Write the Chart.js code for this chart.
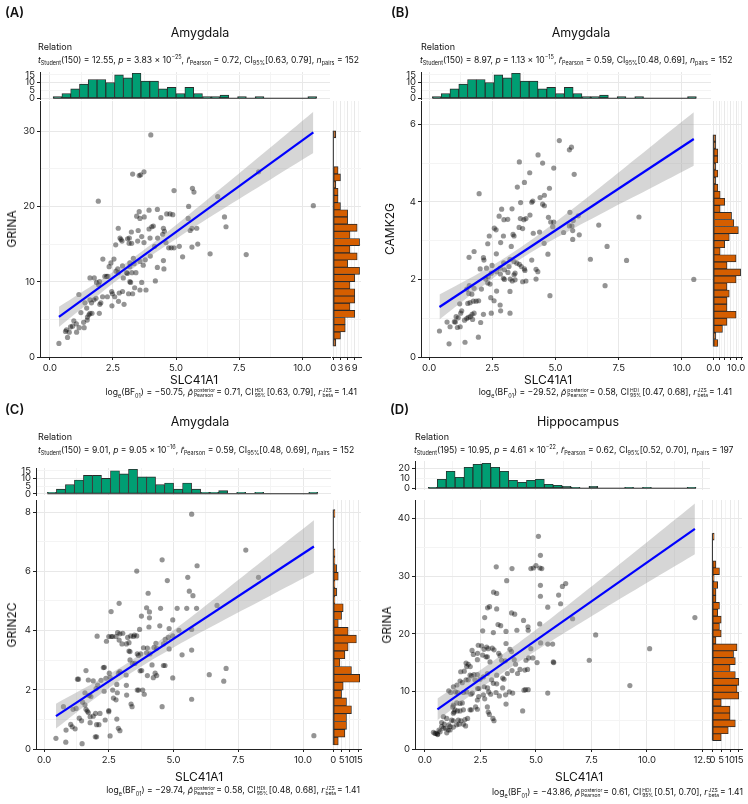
<!DOCTYPE html>
<html lang="en">
<head>
<meta charset="UTF-8" />
<title>SLC41A1 correlations</title>
<script src="https://cdn.jsdelivr.net/npm/chart.js"></script>
<style>
  body { margin: 0; background: #fff; font-family: Inter, 'Open Sans', sans-serif; color: #111; }
  #wrap { position: relative; width: 748px; height: 804px; overflow: hidden; }
  .panel { position: absolute; width: 374px; height: 402px; }
  .panel canvas { position: absolute; left: 0; top: 0; }
  .txt { position: absolute; white-space: nowrap; line-height: 1; }
  .l { transform: translate(0, -50%); }
  .c { transform: translate(-50%, -50%); }
  .r { transform: translate(-100%, -50%); }
  .v { transform: translate(-50%, -50%) rotate(-90deg); }
  .tag { font-size: 13px; font-weight: 600; }
  .ttl { font-size: 12.5px; }
  .rel { font-size: 9px; }
  .stats, .cap { font-size: 8.6px; }
  .stats sub, .stats sup, .cap sub { font-size: 5.5px; line-height: 0; }
  .ss { display: inline-flex; flex-direction: column; vertical-align: middle; font-size: 5px; line-height: 1.05; margin: 0 1px; }
  .axt { font-size: 12px; }
</style>
</head>
<body>
<div id="wrap"></div>
<script>
// ---------- data ----------
// scatter points [x, y]
const ptsA = [[4.0,29.5],[3.28,24.3],[3.54,24.1],[3.6,24.2],[3.73,24.6],[1.92,20.7],[4.92,22.1],[5.65,22.4],[5.71,21.9],[6.65,21.3],[8.27,24.6],[10.44,20.1],[5.5,20.0],
  [3.54,19.3],[3.93,19.5],[4.26,19.6],[3.74,18.6],[3.44,18.7],[3.57,18.4],[4.63,19.0],[4.76,19.0],[4.87,18.9],[4.4,18.5],[4.04,17.3],[4.1,17.4],
  [5.48,18.4],[5.63,17.1],[5.82,17.1],[5.56,16.8],[6.92,18.6],[6.98,17.3],[2.71,17.1],[3.93,17.0],[3.5,16.8],[3.23,16.6],[3.15,15.8],
  [2.78,15.8],[2.82,15.6],[2.86,15.4],[3.08,15.7],[3.14,15.1],[3.24,15.1],[2.61,14.9],[3.64,16.0],[3.97,15.8],[4.27,15.8],[4.47,16.3],[4.54,16.7],[4.5,17.1],
  [3.48,15.4],[3.73,15.2],[4.15,14.7],[4.6,15.2],[4.71,14.5],[4.81,14.5],[4.92,14.5],[5.13,14.7],[5.63,14.6],[5.86,15.0],[6.35,13.7],[7.78,13.6],[5.26,13.3],
  [3.98,13.4],[3.78,12.9],[3.57,12.7],[3.31,13.1],[3.34,12.4],[3.17,12.0],[2.88,12.1],[2.69,11.7],[2.62,11.4],[2.71,11.2],[2.54,13.0],[2.42,12.5],[2.35,12.0],
  [2.10,13.0],[2.18,10.7],[2.25,10.7],[2.30,10.7],[1.97,10.0],[1.93,9.6],[1.85,9.9],[1.59,10.5],[1.76,10.5],[1.15,8.3],[2.09,8.0],[2.28,8.0],[2.57,8.0],
  [2.45,8.7],[2.48,8.4],[2.75,8.5],[2.88,8.7],[3.07,11.1],[3.17,10.0],[3.2,9.9],[2.91,10.5],[3.04,11.2],[3.25,11.2],[3.41,11.2],[3.64,9.9],[3.81,8.9],[3.57,8.9],[3.36,9.2],
  [3.12,8.4],[3.28,8.4],[2.72,7.4],[2.94,7.0],[2.46,6.8],[4.18,10.1],[4.5,12.8],[4.52,11.7],[4.26,11.9],[3.70,12.2],[3.17,12.5],
  [1.59,7.6],[1.65,7.2],[1.75,7.6],[1.83,7.8],[1.98,7.0],[2.02,7.2],[1.67,5.8],[1.59,5.8],[1.55,5.6],[1.49,5.3],[1.48,4.9],
  [1.23,5.9],[1.34,4.6],[1.16,3.9],[1.05,4.4],[0.95,4.8],[0.82,4.0],[0.66,3.6],[0.62,3.4],[0.77,3.3],[0.36,1.8],[0.70,2.6],[1.06,3.3],[1.36,3.9],[1.39,7.2],[1.46,6.5],[1.96,5.8],[0.90,4.1]];

const ptsB = [[5.15,5.58],[5.55,5.34],[5.63,5.41],[4.31,5.21],[3.57,5.03],[4.49,5.0],[4.93,4.87],[5.74,4.71],[3.98,4.75],[1.98,4.21],[3.77,4.5],[3.49,4.38],[4.76,4.35],
  [4.39,4.11],[4.56,4.17],[4.06,3.99],[4.1,4.02],[4.49,3.94],[4.56,3.9],[3.62,3.98],[2.87,3.81],[3.28,3.82],[2.77,3.63],[2.96,3.54],[3.11,3.55],[3.61,3.57],[3.75,3.54],
  [3.83,3.57],[3.99,3.66],[2.58,3.32],[2.65,3.28],[3.56,3.34],[3.70,3.31],[2.38,3.12],[2.94,3.12],[3.32,3.16],[3.36,3.12],[4.12,3.19],[4.37,3.22],[4.72,3.6],[4.81,3.48],
  [4.93,3.48],[5.57,3.73],[5.70,3.52],[5.94,3.15],[5.65,3.38],[5.55,3.38],[5.32,3.21],[6.71,3.4],[5.9,3.64],[8.30,3.61],[4.89,3.36],[5.68,3.26],[5.68,3.03],[4.55,2.93],
  [2.32,2.92],[2.83,2.95],[1.58,2.57],[2.15,2.56],[2.66,2.66],[1.78,2.72],[3.25,2.85],[7.04,2.85],[4.70,2.65],[4.06,2.5],[6.38,2.52],[7.81,2.49],[2.95,2.43],[3.2,2.52],
  [3.36,2.46],[3.47,2.42],[3.57,2.39],[3.65,2.33],[2.98,2.25],[3.16,2.33],[2.81,2.29],[2.49,2.36],[2.67,2.2],[2.34,2.07],[2.46,2.16],[2.02,2.27],[2.27,2.29],[2.17,2.5],
  [3.77,2.27],[3.79,2.23],[3.4,2.16],[3.12,2.18],[3.36,2.12],[3.21,2.01],[2.82,2.14],[2.94,2.03],[3.29,1.96],[3.4,1.99],[2.98,2.0],[4.23,2.26],[4.30,2.2],[4.23,2.01],
  [3.70,1.94],[3.83,1.96],[4.78,1.58],[6.96,1.84],[10.47,2.0],[2.67,1.70],[2.32,1.91],[2.41,1.88],[2.24,2.01],[2.07,1.75],[1.78,1.77],[1.59,1.84],[1.49,1.75],[1.57,1.64],
  [1.69,1.62],[2.44,1.53],[2.57,1.45],[3.2,1.69],[1.96,1.45],[1.75,1.44],[1.86,1.44],[1.53,1.38],[1.62,1.40],[1.21,1.37],[2.81,1.34],[2.83,1.19],[2.46,1.13],[3.20,1.13],
  [2.15,1.10],[1.70,1.10],[1.78,1.13],[1.29,1.19],[1.25,1.13],[1.07,1.04],[1.15,1.01],[1.55,1.02],[1.63,1.04],[1.72,0.97],[1.40,0.95],[1.49,0.99],[2.04,0.89],[1.0,0.91],
  [0.71,0.90],[1.12,0.76],[1.23,0.78],[0.83,0.78],[0.41,0.67],[1.95,0.51],[1.42,0.38],[0.79,0.34],[1.04,0.90]];

const ptsC = [[5.70,7.93],[7.79,6.72],[4.56,6.39],[5.91,6.19],[3.58,6.01],[4.76,5.69],[5.55,5.8],[8.28,5.8],[5.61,5.33],[5.75,5.18],[4.02,5.26],[2.90,4.92],[6.68,4.85],
  [2.59,4.64],[3.96,4.77],[4.07,4.63],[4.50,4.75],[5.14,4.75],[5.51,4.75],[5.89,4.75],[3.76,4.49],[4.07,4.43],[4.97,4.36],[4.47,4.16],[4.83,4.07],[4.05,4.12],[3.69,4.04],
  [5.21,4.01],[5.70,4.04],[2.05,3.81],[2.50,3.8],[2.65,3.8],[2.78,3.8],[2.6,3.8],[2.84,3.93],[2.93,3.89],[3.04,3.91],[3.23,3.77],[3.35,3.82],[3.45,3.8],[2.41,3.64],
  [3.01,3.55],[3.18,3.55],[3.28,3.59],[3.49,3.85],[3.58,3.82],[2.90,3.68],[4.68,3.70],[4.80,3.77],[4.97,3.82],[4.32,3.57],[4.61,3.55],[3.84,3.42],[3.99,3.41],[4.25,3.43],
  [4.35,3.40],[4.83,3.38],[3.28,3.31],[3.32,3.29],[3.60,3.21],[3.73,3.21],[3.65,3.16],[3.96,3.25],[4.09,3.21],[5.33,3.18],[5.70,3.34],[3.32,3.01],[3.41,2.89],[3.51,2.89],
  [2.29,2.75],[2.33,2.76],[4.17,2.84],[4.61,2.82],[4.67,2.82],[2.93,2.61],[2.87,2.56],[3.17,2.50],[3.71,2.64],[3.77,2.65],[4.29,2.56],[4.22,2.41],[4.35,2.48],[3.99,2.48],
  [4.97,2.40],[6.38,2.51],[7.03,2.72],[6.94,2.29],[2.52,2.56],[1.62,2.65],[1.33,2.36],[1.29,2.36],[1.71,2.33],[1.90,2.30],[2.20,2.32],[2.39,2.39],[2.55,2.42],[2.07,2.16],
  [2.81,2.18],[3.18,2.15],[3.81,1.99],[3.60,1.99],[3.65,1.99],[3.87,1.85],[3.19,1.82],[2.65,1.99],[2.83,1.90],[2.32,1.95],[2.01,2.04],[1.81,1.77],[1.74,1.81],[1.58,1.90],
  [2.68,1.72],[2.78,1.66],[3.36,1.52],[3.40,1.43],[5.70,1.68],[4.56,1.43],[0.75,1.43],[1.12,1.34],[1.24,1.37],[1.62,1.34],[1.67,1.28],[1.71,1.23],[2.16,1.20],[1.99,1.20],
  [2.50,1.30],[2.50,1.26],[1.58,1.49],[1.49,1.58],[1.36,1.04],[1.45,0.95],[1.78,1.09],[1.90,1.11],[2.36,0.98],[2.81,1.01],[1.03,0.83],[1.09,0.75],[0.85,0.64],[1.20,0.68],
  [1.78,0.89],[2.03,0.82],[2.12,0.82],[2.87,0.70],[2.93,0.62],[1.98,0.41],[2.03,0.41],[2.55,0.44],[0.46,0.36],[0.84,0.23],[1.47,0.18],[10.42,0.45]];

const ptsD = [[5.11,36.9],[5.20,33.6],[5.26,31.3],[3.21,31.6],[3.92,31.3],[4.88,31.4],[4.77,31.3],[5.0,31.8],[5.18,31.4],[3.68,29.2],[6.34,28.7],[6.19,28.2],[5.20,28.4],
  [5.20,26.5],[6.02,26.7],[3.09,27.2],[3.23,27.0],[2.91,24.7],[2.82,24.5],[3.23,24.3],[5.53,24.6],[6.11,25.2],[3.90,23.6],[4.04,23.4],[2.69,22.8],[4.44,22.3],[6.65,22.6],
  [12.16,22.8],[3.29,21.6],[3.41,21.4],[5.17,21.7],[4.64,21.2],[4.65,20.6],[4.14,20.6],[2.60,20.5],[3.65,20.4],[3.08,20.2],[7.69,19.8],[3.65,18.3],[2.40,18.0],[2.55,17.9],
  [2.78,17.7],[2.66,17.3],[2.85,17.4],[3.03,17.5],[3.11,17.2],[2.37,16.6],[2.60,16.3],[2.12,17.1],[2.18,16.4],[2.75,16.0],[2.81,16.0],[3.32,16.6],[3.38,16.2],[3.83,17.3],
  [3.90,16.9],[4.77,17.4],[5.53,18.2],[5.75,18.2],[5.21,18.4],[10.12,17.4],[4.67,15.8],[4.55,15.4],[4.02,15.5],[3.45,15.4],[3.62,15.3],[2.93,15.1],[2.36,15.5],[1.85,14.9],
  [1.95,14.7],[1.61,13.4],[1.77,13.5],[1.88,14.3],[2.04,14.3],[2.03,12.8],[2.10,12.7],[2.21,12.9],[2.36,12.9],[2.25,12.0],[2.48,12.1],[2.63,12.5],[2.81,13.1],[3.00,12.0],
  [3.23,12.8],[3.50,12.3],[3.56,12.1],[3.71,13.1],[3.92,13.6],[4.17,13.1],[4.28,13.8],[4.50,13.7],[4.62,13.8],[4.08,14.7],[5.05,15.0],[5.78,15.1],[4.86,15.8],[7.40,15.4],
  [5.80,15.0],[1.85,12.0],[1.95,12.0],[1.58,11.8],[1.68,11.5],[1.44,11.1],[1.28,10.8],[2.37,10.5],[2.43,10.5],[2.67,10.8],[2.82,10.6],[3.08,11.4],[3.23,11.3],[3.50,10.6],
  [3.80,9.9],[3.95,9.7],[4.46,10.2],[4.53,10.3],[4.65,10.3],[5.53,9.7],[9.23,11.0],[1.07,10.1],[1.16,9.8],[1.37,9.9],[1.47,9.8],[1.73,9.8],[1.88,9.9],[2.07,9.5],[2.13,9.7],
  [2.42,9.1],[2.36,8.5],[2.63,9.4],[2.69,8.7],[2.87,9.9],[2.96,9.5],[3.20,9.8],[3.35,9.2],[3.63,9.4],[2.28,7.3],[2.36,6.9],[1.43,8.0],[1.58,7.9],[1.68,8.0],[1.28,7.6],
  [2.03,6.8],[2.09,6.8],[2.81,7.3],[2.85,6.4],[2.90,6.0],[3.06,5.3],[3.11,4.9],[3.65,7.8],[4.40,6.6],[1.25,7.3],[1.35,6.8],[1.46,6.6],[1.58,6.6],[1.73,6.8],[0.83,5.6],
  [0.98,5.3],[1.31,6.4],[1.28,6.2],[1.50,5.0],[1.62,4.9],[1.80,5.1],[1.92,5.3],[1.20,5.0],[1.28,4.9],[1.08,4.2],[1.13,3.9],[1.43,4.2],[1.53,4.3],[1.73,4.3],[1.83,4.0],
  [0.75,4.6],[0.87,4.3],[0.83,3.6],[0.93,3.6],[0.63,3.3],[0.68,3.0],[0.50,2.7],[0.57,2.6],[0.38,2.9],[0.45,2.7],[0.98,2.8],[0.75,3.9],[1.05,3.3],[1.13,3.3],[1.28,3.8],[0.57,2.5]];

// regression line end points and confidence band
const lineA = [[0.36,5.33],[10.44,29.83]];
const bandXA = [0.36,2,3.4,5,7,8.7,10.44];
const bandLoA = [3.98,8.44,12.01,15.68,19.94,23.48,27.08];
const bandHiA = [6.68,10.2,13.43,17.54,23.0,27.72,32.58];
const lineB = [[0.41,1.29],[10.47,5.62]];
const bandXB = [0.41,2,3.4,5,7,8.7,10.47];
const bandLoB = [0.97,1.77,2.43,3.06,3.76,4.33,4.93];
const bandHiB = [1.61,2.17,2.73,3.48,4.50,5.39,6.31];
const lineC = [[0.46,1.11],[10.42,6.84]];
const bandXC = [0.46,2,3.4,5,7,8.7,10.42];
const bandLoC = [0.69,1.73,2.59,3.43,4.38,5.16,5.95];
const bandHiC = [1.53,2.27,3.01,4.01,5.36,6.54,7.73];
const lineD = [[0.56,6.88],[12.16,38.2]];
const bandXD = [0.56,2,2.9,5,8,10,12.16];
const bandLoD = [5.0,9.15,11.63,17.05,24.22,28.85,33.8];
const bandHiD = [8.76,12.39,14.77,20.69,29.72,35.89,42.6];

// marginal histograms (30 bins each)
const amygXBinStart = 0.13, amygXBinWidth = 0.348;
const amygXCounts = [1,3,6,9,12,12,10,15,13,16,11,11,6,7,3,7,3,1,1,2,0,1,0,1,0,0,0,0,0,1];
const hippoXBinStart = 0.15, hippoXBinWidth = 0.402;
const hippoXCounts = [1,9,17,11,21,24,25,21,17,8,6,8,9,4,3,2,1,0,2,0,0,0,1,0,1,0,0,0,0,1];
const yBinStartA = 1.43, yBinWidthA = 0.954;
const yCountsA = [1,3,5,5,9,7,9,9,7,9,11,6,10,7,11,7,10,6,6,3,2,2,1,3,2,0,0,0,0,1];
const yBinStartB = 0.27, yBinWidthB = 0.182;
const yCountsB = [2,1,4,6,10,6,6,7,6,10,12,6,10,3,5,7,11,9,8,3,5,3,2,1,2,1,2,2,1,1];
const yBinStartC = 0.135, yBinWidthC = 0.265;
const yCountsC = [3,7,8,8,11,8,5,6,16,11,4,7,9,14,9,3,5,6,1,2,1,3,2,1,1,0,0,0,0,1];
const yBinStartD = 1.45, yBinWidthD = 1.2;
const yCountsD = [5,9,13,10,10,5,15,14,15,13,10,13,12,14,2,5,4,5,3,4,2,2,3,1,4,2,0,0,0,1];

// texts
const panelTags = ['(A)', '(B)', '(C)', '(D)'];
const regions = ['Amygdala', 'Amygdala', 'Amygdala', 'Hippocampus'];
const genes = ['GRINA', 'CAMK2G', 'GRIN2C', 'GRINA'];
const xLabel = 'SLC41A1';
const tStats = [['150','12.55','3.83','−25','0.72','0.63','0.79','152'],
                ['150','8.97','1.13','−15','0.59','0.48','0.69','152'],
                ['150','9.01','9.05','−16','0.59','0.48','0.69','152'],
                ['195','10.95','4.61','−22','0.62','0.52','0.70','197']];
const bfStats = [['−50.75','0.71','0.63','0.79','1.41'],
                 ['−29.52','0.58','0.47','0.68','1.41'],
                 ['−29.74','0.58','0.48','0.68','1.41'],
                 ['−43.86','0.61','0.51','0.70','1.41']];

// ---------- layout ----------
const W = 374, H = 402;
const INK = '#222', GRID_MAJ = '#e8e8e8', GRID_MIN = '#f4f4f4';
const TICK_FONT = { family: 'Inter', size: 9.5 };

const panels = [
  { ox: 0, oy: 0, pts: ptsA, line: lineA, bx: bandXA, blo: bandLoA, bhi: bandHiA,
    xMin: -0.39, xMax: 11.1, xStep: 2.5, yMin: 0, yMax: 34, yStep: 10,
    top: { counts: amygXCounts, start: amygXBinStart, width: amygXBinWidth, min: -0.8, max: 16.8, step: 5 },
    right: { counts: yCountsA, start: yBinStartA, width: yBinWidthA, min: -0.55, max: 11.6, step: 3, labels: null },
    main: { l: 40, t: 101, r: 330, b: 357 }, topArea: { l: 40, t: 72, r: 330, b: 99.5 }, rightArea: { l: 332, t: 101, r: 361, b: 357 },
    text: { tag: [5, 12], ttl: [200, 33], rel: [38, 45.5], st: [38, 59.5], xt: [194, 380], cap: [357, 393], yt: [12, 229] } },
  { ox: 374, oy: 0, pts: ptsB, line: lineB, bx: bandXB, blo: bandLoB, bhi: bandHiB,
    xMin: -0.32, xMax: 11.15, xStep: 2.5, yMin: 0, yMax: 6.6, yStep: 2,
    top: { counts: amygXCounts, start: amygXBinStart, width: amygXBinWidth, min: -0.8, max: 16.8, step: 5 },
    right: { counts: yCountsB, start: yBinStartB, width: yBinWidthB, min: -0.6, max: 12.6, step: 2.5, labels: [0, 10] },
    main: { l: 47, t: 101, r: 337, b: 357 }, topArea: { l: 47, t: 72, r: 337, b: 99.5 }, rightArea: { l: 338, t: 101, r: 368, b: 357 },
    text: { tag: [17, 12], ttl: [207, 33], rel: [47, 45.5], st: [46, 59.5], xt: [174, 380], cap: [358, 393], yt: [16, 229] } },
  { ox: 0, oy: 402, pts: ptsC, line: lineC, bx: bandXC, blo: bandLoC, bhi: bandHiC,
    xMin: -0.31, xMax: 11.08, xStep: 2.5, yMin: 0, yMax: 8.41, yStep: 2,
    top: { counts: amygXCounts, start: amygXBinStart, width: amygXBinWidth, min: -0.8, max: 16.8, step: 5 },
    right: { counts: yCountsC, start: yBinStartC, width: yBinWidthC, min: -0.8, max: 16.8, step: 5, labels: null },
    main: { l: 36, t: 98, r: 331, b: 347 }, topArea: { l: 36, t: 66, r: 331, b: 93 }, rightArea: { l: 332, t: 98, r: 361, b: 347 },
    text: { tag: [5, 7], ttl: [200, 20], rel: [38, 33.5], st: [38, 47.5], xt: [199, 375], cap: [360, 389], yt: [12, 223] } },
  { ox: 374, oy: 402, pts: ptsD, line: lineD, bx: bandXD, blo: bandLoD, bhi: bandHiD,
    xMin: -0.45, xMax: 12.84, xStep: 2.5, yMin: 0, yMax: 43.2, yStep: 10,
    top: { counts: hippoXCounts, start: hippoXBinStart, width: hippoXBinWidth, min: -1.3, max: 27.3, step: 10 },
    right: { counts: yCountsD, start: yBinStartD, width: yBinWidthD, min: -0.8, max: 16.8, step: 5, labels: null },
    main: { l: 41, t: 98, r: 336, b: 347 }, topArea: { l: 41, t: 59, r: 336, b: 87.5 }, rightArea: { l: 337, t: 98, r: 368, b: 347 },
    text: { tag: [16, 7], ttl: [204, 20], rel: [41, 33.5], st: [40, 47.5], xt: [205, 375], cap: [369, 391], yt: [13, 223] } }
];

// ---------- helpers ----------
const isMajor = (v, step) => Math.abs(v / step - Math.round(v / step)) < 1e-6;
const fmt1 = v => (Math.round(v * 10) / 10).toFixed(1);

function fitAxis(size, horizontal) {
  return s => {
    if (horizontal) s.height = size; else s.width = size;
    s.paddingLeft = s.paddingRight = s.paddingTop = s.paddingBottom = 0;
  };
}
function pad(a, yW, xH) {
  return { left: a.l - yW, top: a.t, right: W - a.r, bottom: H - a.b - xH };
}
function gridOpts(step, ticks) {
  return {
    color: c => (c.tick && isMajor(c.tick.value, step)) ? GRID_MAJ : GRID_MIN,
    tickColor: c => (c.tick && isMajor(c.tick.value, step)) ? INK : 'rgba(0,0,0,0)',
    tickLength: 3, drawTicks: ticks, lineWidth: 1
  };
}
function axis(min, max, step, opts) {
  const o = opts || {};
  return {
    type: 'linear', min, max, offset: false,
    position: o.position,
    ticks: { stepSize: step / 2, includeBounds: false, autoSkip: false, maxRotation: 0,
      display: o.labels !== false, font: TICK_FONT, color: INK, padding: 2,
      callback: o.callback || (v => isMajor(v, step) ? String(Math.round(v)) : '') },
    grid: Object.assign(gridOpts(step, o.labels !== false), { offset: false }),
    border: { display: !!o.border, color: INK, width: 1 },
    afterFit: fitAxis(o.size || 0, o.horizontal)
  };
}
const baseOpts = (padding) => ({
  responsive: false, animation: false, events: [],
  layout: { padding },
  plugins: { legend: { display: false }, tooltip: { enabled: false } }
});
const xy = a => a.map(([x, y]) => ({ x, y }));

function buildPanel(p, idx) {
  const el = document.createElement('div');
  el.className = 'panel';
  el.style.left = p.ox + 'px';
  el.style.top = p.oy + 'px';
  document.getElementById('wrap').appendChild(el);
  const cv = () => { const c = document.createElement('canvas'); c.width = W; c.height = H; el.appendChild(c); return c; };

  // main scatter with regression line and band
  new Chart(cv(), {
    type: 'scatter',
    data: { datasets: [
      { type: 'line', data: xy(p.line), borderColor: '#0000ff', borderWidth: 2.2, pointRadius: 0, order: 1 },
      { type: 'line', data: p.bx.map((x, i) => ({ x, y: p.bhi[i] })), fill: '+1', backgroundColor: 'rgba(153,153,153,0.4)',
        borderColor: 'rgba(0,0,0,0)', borderWidth: 0, pointRadius: 0, tension: 0.4, order: 2 },
      { type: 'line', data: p.bx.map((x, i) => ({ x, y: p.blo[i] })), fill: false,
        borderColor: 'rgba(0,0,0,0)', borderWidth: 0, pointRadius: 0, tension: 0.4, order: 3 },
      { data: xy(p.pts), backgroundColor: 'rgba(0,0,0,0.42)', borderWidth: 0, pointRadius: 2.6, order: 4 }
    ]},
    options: Object.assign(baseOpts(pad(p.main, 30, 20)), {
      scales: {
        x: axis(p.xMin, p.xMax, p.xStep, { horizontal: true, size: 20, border: true, callback: v => isMajor(v, p.xStep) ? fmt1(v) : '' }),
        y: axis(p.yMin, p.yMax, p.yStep, { size: 30, border: true })
      }
    })
  });

  // top histogram of x
  const t = p.top;
  const lastEdgeX = t.start + t.width * t.counts.length;
  new Chart(cv(), {
    type: 'bar',
    data: { datasets: [
      { data: t.counts.map((n, i) => ({ x: t.start + (i + 0.5) * t.width, y: n })), backgroundColor: '#009E73',
        borderColor: '#2a2a2a', borderWidth: 0.9, borderSkipped: false, barPercentage: 1, categoryPercentage: 1, order: 2 },
      { type: 'line', data: [{ x: t.start, y: 0 }, { x: lastEdgeX, y: 0 }], borderColor: '#2a2a2a', borderWidth: 1, pointRadius: 0, order: 1 }
    ]},
    options: Object.assign(baseOpts(pad(p.topArea, 30, 0)), {
      scales: {
        x: axis(p.xMin, p.xMax, p.xStep, { horizontal: true, labels: false }),
        y: axis(t.min, t.max, t.step * 2, { size: 30, border: true, callback: v => isMajor(v, t.step) ? String(Math.round(v)) : '' })
      }
    })
  });

  // right histogram of y
  const r = p.right;
  const lastEdgeY = r.start + r.width * r.counts.length;
  const rLabel = r.labels
    ? (v => r.labels.some(l => Math.abs(l - v) < 1e-6) ? fmt1(v) : '')
    : (v => isMajor(v, r.step) ? String(Math.round(v)) : '');
  new Chart(cv(), {
    type: 'bar',
    data: { datasets: [
      { data: r.counts.map((n, i) => ({ y: r.start + (i + 0.5) * r.width, x: n })), backgroundColor: '#D55E00',
        borderColor: '#2a2a2a', borderWidth: 0.9, borderSkipped: false, barPercentage: 1, categoryPercentage: 1, order: 2 },
      { type: 'line', data: [{ x: 0, y: r.start }, { x: 0, y: lastEdgeY }], borderColor: '#2a2a2a', borderWidth: 1, pointRadius: 0, order: 1 }
    ]},
    options: Object.assign(baseOpts(pad(p.rightArea, 0, 20)), {
      indexAxis: 'y',
      scales: {
        x: axis(r.min, r.max, r.step, { horizontal: true, size: 20, border: true, callback: rLabel }),
        y: axis(p.yMin, p.yMax, p.yStep, { labels: false })
      }
    })
  });

  // texts
  const T = p.text;
  const add = (pos, cls, html) => {
    const d = document.createElement('div');
    d.className = 'txt ' + cls;
    d.style.left = pos[0] + 'px';
    d.style.top = pos[1] + 'px';
    d.innerHTML = html;
    el.appendChild(d);
  };
  const s = tStats[idx], b = bfStats[idx];
  const ss = (up, dn) => `<span class="ss"><span>${up}</span><span>${dn}</span></span>`;
  add(T.tag, 'l tag', panelTags[idx]);
  add(T.ttl, 'c ttl', regions[idx]);
  add(T.rel, 'l rel', 'Relation');
  add(T.st, 'l stats', `<i>t</i><sub>Student</sub>(${s[0]}) = ${s[1]}, <i>p</i> = ${s[2]} × 10<sup>${s[3]}</sup>, <i>r̂</i><sub>Pearson</sub> = ${s[4]}, CI<sub>95%</sub>[${s[5]}, ${s[6]}], <i>n</i><sub>pairs</sub> = ${s[7]}`);
  add(T.xt, 'c axt', xLabel);
  add(T.yt, 'v axt', genes[idx]);
  add(T.cap, 'r cap', `log<sub>e</sub>(BF<sub>01</sub>) = ${b[0]}, <i>ρ̂</i>${ss('posterior', 'Pearson')}= ${b[1]}, CI${ss('HDI', '95%')}[${b[2]}, ${b[3]}], <i>r</i>${ss('JZS', 'beta')}= ${b[4]}`);
}

panels.forEach(buildPanel);
</script>
</body>
</html>
